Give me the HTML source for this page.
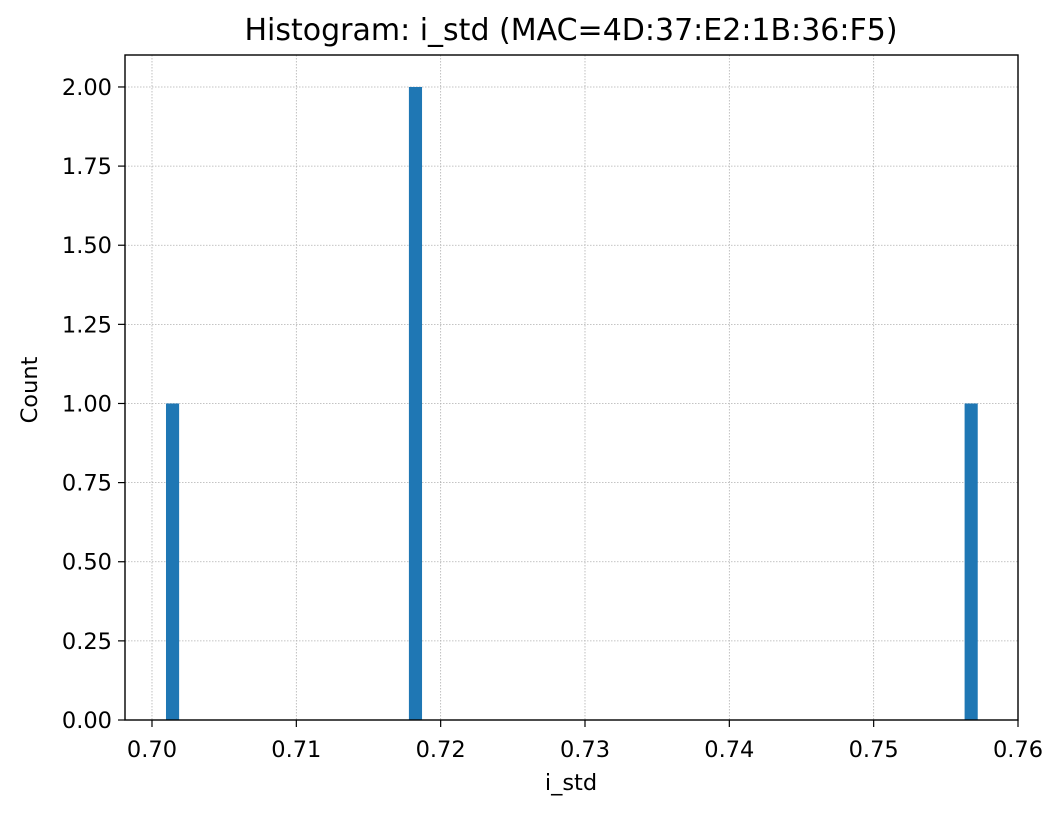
<!DOCTYPE html>
<html><head><meta charset="utf-8"><style>
html,body{margin:0;padding:0;background:#fff;}
svg text{font-family:"DejaVu Sans","Liberation Sans",sans-serif;fill:#000;}
</style></head><body>
<svg id="chart" width="1063" height="815" xmlns="http://www.w3.org/2000/svg">
<text x="571" y="40" font-size="30" text-anchor="middle">Histogram: i_std (MAC=4D:37:E2:1B:36:F5)</text>
<g id="grid"></g>
<g id="bars"></g>
<rect x="125" y="55" width="893" height="665" fill="none" stroke="#000" stroke-width="1.4"/>
<g id="ticks"></g>
<text x="571" y="790" font-size="22.5" text-anchor="middle">i_std</text>
<text x="0" y="0" font-size="22.5" text-anchor="middle" transform="translate(37,390) rotate(-90)">Count</text>
</svg>
<script>
const binLefts = [0.70097, 0.71780, 0.75630];
const binWidth = 0.00091;
const counts = [1, 2, 1];
const xTicks = [0.70, 0.71, 0.72, 0.73, 0.74, 0.75, 0.76];
const xTickLabels = ["0.70","0.71","0.72","0.73","0.74","0.75","0.76"];
const yTicks = [0, 0.25, 0.5, 0.75, 1.0, 1.25, 1.5, 1.75, 2.0];
const yTickLabels = ["0.00","0.25","0.50","0.75","1.00","1.25","1.50","1.75","2.00"];

const L=125,R=1018,T=55,B=720;
const xMin=0.69813,xMax=0.76,yMin=0,yMax=2.101;
const xs=v=>L+(v-xMin)/(xMax-xMin)*(R-L);
const ys=v=>B-(v-yMin)/(yMax-yMin)*(B-T);
const NS="http://www.w3.org/2000/svg";
function mk(tag,attrs,parent,text){const e=document.createElementNS(NS,tag);for(const k in attrs)e.setAttribute(k,attrs[k]);if(text!==undefined)e.textContent=text;parent.appendChild(e);return e;}
const grid=document.getElementById('grid'),bars=document.getElementById('bars'),ticks=document.getElementById('ticks');
xTicks.forEach((v,i)=>{
  const x=xs(v);
  const g=mk('line',{x1:x,x2:x,y1:T,y2:B,stroke:'#b0b0b0','stroke-width':0.8,'stroke-dasharray':'1.5,1.5'},grid);
  
  
  const t=mk('line',{x1:x,x2:x,y1:B,y2:B+7,stroke:'#000','stroke-width':1.2},ticks);
  
  
  const l=mk('text',{x:x,y:B+37,'font-size':22.5,'text-anchor':'middle'},ticks,xTickLabels[i]);
  
  
});
yTicks.forEach((v,i)=>{
  const y=ys(v);
  const g=mk('line',{x1:L,x2:R,y1:y,y2:y,stroke:'#b0b0b0','stroke-width':0.8,'stroke-dasharray':'1.5,1.5'},grid);
  
  
  const t=mk('line',{x1:L-7,x2:L,y1:y,y2:y,stroke:'#000','stroke-width':1.2},ticks);
  
  
  const l=mk('text',{x:L-13,y:y+8,'font-size':22.5,'text-anchor':'end'},ticks,yTickLabels[i]);
  
  
});
binLefts.forEach((v,i)=>{
  const x0=xs(v),x1=xs(v+binWidth);
  const r=mk('rect',{x:x0,y:ys(counts[i]),width:x1-x0,height:ys(0)-ys(counts[i]),fill:'#1f77b4'},bars);
  
  
});
</script>
</body></html>
